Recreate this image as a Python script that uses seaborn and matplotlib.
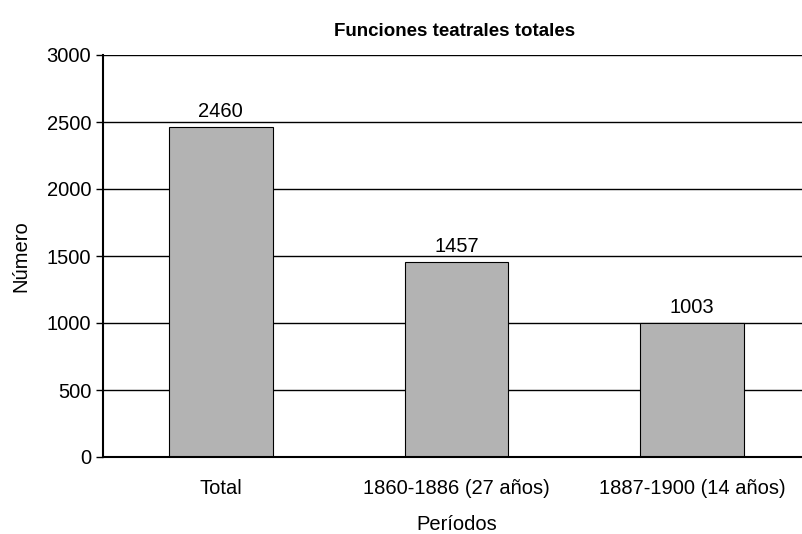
import matplotlib
matplotlib.use('Agg')
import matplotlib.pyplot as plt
import seaborn as sns
import pandas as pd

# Data
periodos = ['Total', '1860-1886 (27 años)', '1887-1900 (14 años)']
funciones = [2460, 1457, 1003]
y_ticks = [0, 500, 1000, 1500, 2000, 2500, 3000]

df = pd.DataFrame({'periodo': periodos, 'funciones': funciones})

sns.set_style('white')
plt.rcParams['font.family'] = ['Liberation Sans', 'DejaVu Sans']
plt.rcParams['text.color'] = 'black'
plt.rcParams['axes.labelcolor'] = 'black'
plt.rcParams['xtick.color'] = 'black'
plt.rcParams['ytick.color'] = 'black'

fs = 14.5

fig = plt.figure(figsize=(8.03, 5.34), dpi=100)
ax = fig.add_axes([103 / 803, 77 / 534, 707 / 803, 402 / 534])

ax.set_ylim(0, 3000)
ax.set_yticks(y_ticks)
for t in y_ticks[1:]:
    ax.axhline(t, color='black', lw=1, zorder=0)

sns.barplot(data=df, x='periodo', y='funciones', color='#b3b3b3',
            edgecolor='black', linewidth=0.8, width=0.44, saturation=1,
            ax=ax, zorder=2)

for i, v in enumerate(funciones):
    ax.text(i, v + 45, str(v), ha='center', va='bottom', fontsize=fs)

ax.set_xlim(-0.5, 2.5)
ax.set_xticks([0, 1, 2])
ax.set_xticklabels(periodos, fontsize=fs)
ax.set_xticks([0.5, 1.5], minor=True)
ax.tick_params(axis='x', which='major', length=0, pad=16)
ax.tick_params(axis='x', which='minor', length=4, width=0.8, color='black')
ax.tick_params(axis='y', length=5, width=1, color='black', labelsize=fs, left=True)

for side in ['top', 'right']:
    ax.spines[side].set_visible(False)
for side in ['left', 'bottom']:
    ax.spines[side].set_color('black')
    ax.spines[side].set_linewidth(1.5)

ax.set_xlabel('Períodos', fontsize=fs, labelpad=12)
ax.set_ylabel('Número', fontsize=fs, labelpad=12)
ax.set_title('Funciones teatrales totales', fontsize=13.5, fontweight='bold',
             pad=14, x=(455 - 103) / 707)

fig.savefig('out.png', dpi=100)
